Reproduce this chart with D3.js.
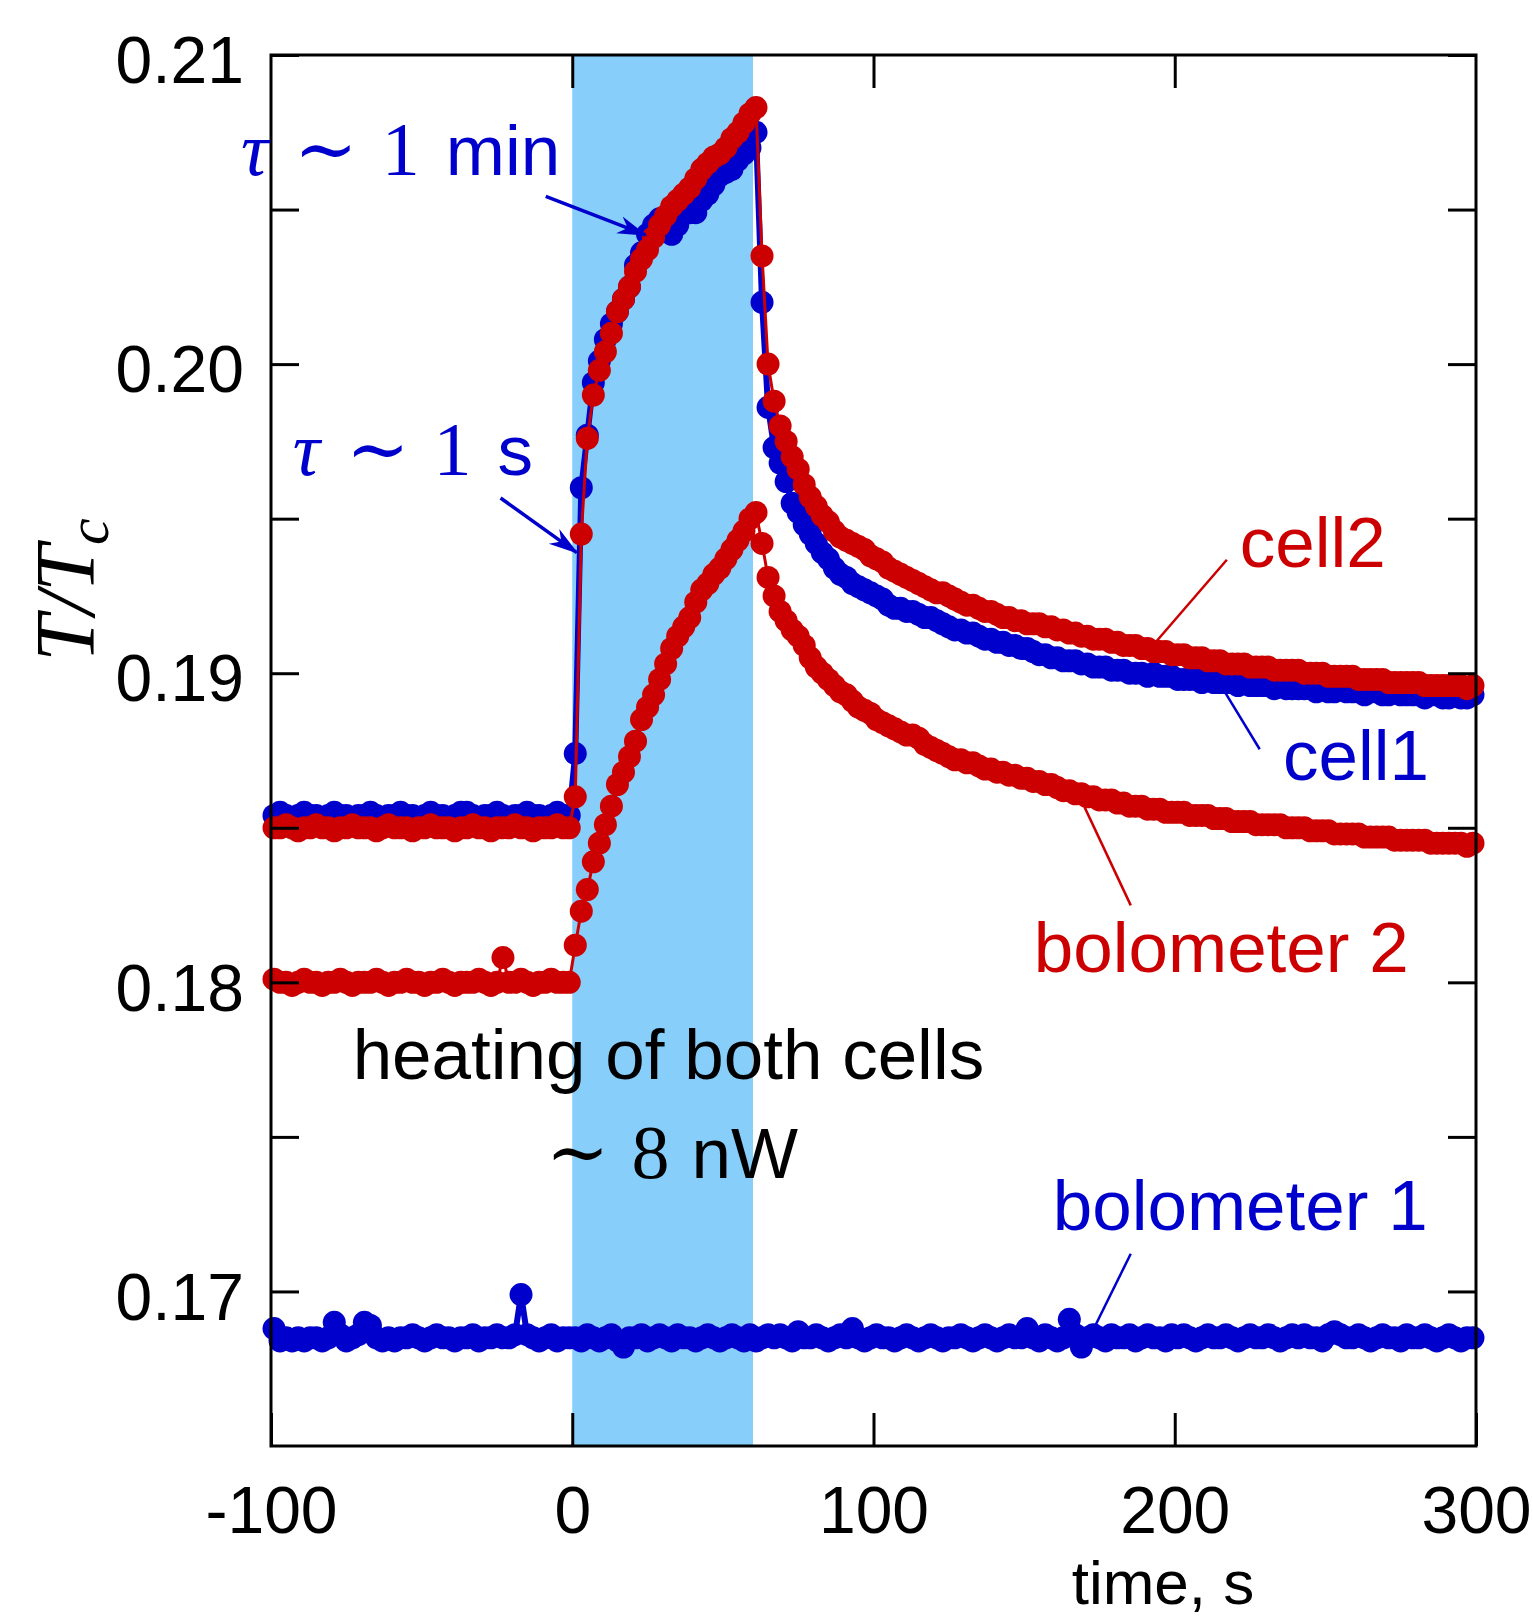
<!DOCTYPE html>
<html>
<head>
<meta charset="utf-8">
<script src="https://cdn.jsdelivr.net/npm/d3@7"></script>
<style>
  body { margin: 0; background: #fff; }
  svg { display: block; }
</style>
</head>
<body>
<svg class="chart" width="1533" height="1618"></svg>
<script>
// sampling grid of the recordings, one point every 2 s
const time = d3.range(-99, 300, 2)

// cell1 (blue) T/Tc
const cell1 = [
  0.1854,0.1855,0.1854,0.1853,0.1854,0.1855,0.1854,0.1854,0.1853,0.1854,
  0.1855,0.1854,0.1854,0.1853,0.1854,0.1854,0.1855,0.1854,0.1853,0.1854,
  0.1854,0.1855,0.1854,0.1854,0.1853,0.1854,0.1855,0.1854,0.1854,0.1853,
  0.1854,0.1855,0.1855,0.1854,0.1853,0.1854,0.1854,0.1855,0.1854,0.1853,
  0.1854,0.1854,0.1855,0.1854,0.1854,0.1853,0.1854,0.1855,0.1854,0.1854,
  // heating
  0.1874,0.1960,0.1977,0.1994,0.2001,0.2008,0.2013,0.2017,0.2021,0.2025,
  0.2032,0.2036,0.2042,0.2045,0.2047,0.2046,0.2042,0.2045,0.2050,0.2049,
  0.2049,0.2053,0.2055,0.2058,0.2061,0.2062,0.2063,0.2066,0.2068,0.2070,
  0.2075,
  // relaxation
  0.2020,0.1986,0.1973,0.1968,0.1962,0.1955,0.1952,0.1948,0.1945,0.1942,
  0.1939,0.1937,0.1934,0.1932,0.1931,0.1929,0.1928,0.1927,0.1926,0.1925,
  0.1924,0.1922,0.1921,0.1921,0.1920,0.1920,0.1919,0.1918,0.1918,0.1917,
  0.1916,0.1915,0.1914,0.1914,0.1913,0.1913,0.1912,0.1911,0.1911,0.1910,
  0.1910,0.1909,0.1909,0.1908,0.1908,0.1907,0.1906,0.1906,0.1905,0.1905,
  0.1904,0.1904,0.1904,0.1903,0.1903,0.1902,0.1902,0.1902,0.1901,0.1901,
  0.1901,0.1900,0.1900,0.1900,0.1899,0.1900,0.1899,0.1899,0.1899,0.1898,
  0.1898,0.1898,0.1898,0.1897,0.1898,0.1897,0.1897,0.1897,0.1897,0.1896,
  0.1897,0.1896,0.1896,0.1896,0.1896,0.1895,0.1896,0.1895,0.1895,0.1895,
  0.1895,0.1895,0.1894,0.1895,0.1894,0.1894,0.1895,0.1894,0.1894,0.1894,
  0.1893,0.1894,0.1894,0.1893,0.1893,0.1894,0.1893,0.1893,0.1893,0.1893,
  0.1892,0.1893,0.1893,0.1892,0.1892,0.1893,0.1892,0.1892,0.1893
]

// cell2 (red) T/Tc
const cell2 = [
  0.1850,0.1850,0.1851,0.1850,0.1849,0.1850,0.1850,0.1851,0.1850,0.1850,
  0.1849,0.1850,0.1850,0.1851,0.1850,0.1850,0.1850,0.1849,0.1850,0.1851,
  0.1850,0.1850,0.1850,0.1849,0.1850,0.1850,0.1851,0.1850,0.1850,0.1850,
  0.1849,0.1850,0.1850,0.1851,0.1850,0.1850,0.1849,0.1850,0.1850,0.1850,
  0.1851,0.1850,0.1850,0.1849,0.1850,0.1850,0.1850,0.1851,0.1850,0.1850,
  // heating
  0.1860,0.1945,0.1976,0.1990,0.1998,0.2004,0.2010,0.2017,0.2021,0.2025,
  0.2030,0.2034,0.2037,0.2041,0.2045,0.2048,0.2051,0.2053,0.2055,0.2057,
  0.2060,0.2063,0.2065,0.2067,0.2068,0.2070,0.2073,0.2075,0.2078,0.2081,
  0.2083,
  // relaxation
  0.2035,0.2000,0.1988,0.1980,0.1975,0.1970,0.1966,0.1961,0.1957,0.1954,
  0.1951,0.1949,0.1946,0.1944,0.1943,0.1942,0.1941,0.1940,0.1938,0.1937,
  0.1936,0.1934,0.1933,0.1932,0.1931,0.1930,0.1929,0.1928,0.1927,0.1926,
  0.1926,0.1925,0.1924,0.1923,0.1922,0.1922,0.1921,0.1920,0.1920,0.1919,
  0.1918,0.1918,0.1917,0.1917,0.1916,0.1916,0.1916,0.1915,0.1915,0.1914,
  0.1914,0.1913,0.1913,0.1912,0.1912,0.1911,0.1911,0.1911,0.1910,0.1910,
  0.1909,0.1909,0.1909,0.1908,0.1908,0.1907,0.1907,0.1907,0.1906,0.1906,
  0.1906,0.1905,0.1905,0.1905,0.1904,0.1904,0.1904,0.1903,0.1903,0.1903,
  0.1903,0.1902,0.1902,0.1902,0.1902,0.1901,0.1901,0.1901,0.1901,0.1901,
  0.1900,0.1900,0.1900,0.1900,0.1899,0.1899,0.1899,0.1899,0.1899,0.1898,
  0.1898,0.1898,0.1898,0.1898,0.1897,0.1897,0.1897,0.1897,0.1897,0.1897,
  0.1896,0.1896,0.1896,0.1896,0.1896,0.1896,0.1896,0.1895,0.1896
]

// bolometer 2 (red) T/Tc
const bolometer2 = [
  0.1801,0.1800,0.1800,0.1799,0.1800,0.1801,0.1800,0.1800,0.1799,0.1800,
  0.1800,0.1801,0.1800,0.1799,0.1800,0.1800,0.1800,0.1801,0.1800,0.1799,
  0.1800,0.1800,0.1801,0.1800,0.1800,0.1799,0.1800,0.1800,0.1801,0.1800,
  0.1799,0.1800,0.1800,0.1800,0.1801,0.1800,0.1799,0.1800,0.1808,0.1800,
  0.1800,0.1801,0.1800,0.1799,0.1800,0.1800,0.1801,0.1800,0.1800,0.1800,
  // heating
  0.1812,0.1823,0.1830,0.1839,0.1845,0.1851,0.1857,0.1864,0.1868,0.1873,
  0.1878,0.1885,0.1889,0.1893,0.1898,0.1903,0.1908,0.1912,0.1915,0.1918,
  0.1923,0.1927,0.1929,0.1932,0.1934,0.1937,0.1940,0.1943,0.1946,0.1950,
  0.1952,
  // relaxation
  0.1942,0.1931,0.1925,0.1920,0.1917,0.1914,0.1912,0.1909,0.1905,0.1902,
  0.1900,0.1898,0.1896,0.1894,0.1893,0.1891,0.1889,0.1888,0.1887,0.1885,
  0.1884,0.1883,0.1882,0.1881,0.1880,0.1880,0.1879,0.1877,0.1876,0.1875,
  0.1874,0.1873,0.1872,0.1872,0.1871,0.1871,0.1870,0.1869,0.1869,0.1868,
  0.1868,0.1867,0.1867,0.1866,0.1866,0.1865,0.1865,0.1864,0.1864,0.1863,
  0.1862,0.1862,0.1861,0.1861,0.1860,0.1860,0.1859,0.1859,0.1859,0.1858,
  0.1858,0.1857,0.1857,0.1857,0.1856,0.1856,0.1856,0.1855,0.1855,0.1855,
  0.1855,0.1854,0.1854,0.1854,0.1854,0.1853,0.1853,0.1853,0.1852,0.1852,
  0.1852,0.1852,0.1851,0.1851,0.1851,0.1851,0.1851,0.1850,0.1850,0.1850,
  0.1850,0.1849,0.1849,0.1849,0.1849,0.1848,0.1848,0.1848,0.1848,0.1848,
  0.1847,0.1847,0.1847,0.1847,0.1847,0.1846,0.1846,0.1846,0.1846,0.1846,
  0.1846,0.1845,0.1845,0.1845,0.1845,0.1845,0.1845,0.1844,0.1845
]

// bolometer 1 (blue) T/Tc
const bolometer1 = [
  0.1688,0.1684,0.1685,0.1684,0.1685,0.1684,0.1685,0.1685,0.1684,0.1685,
  0.1690,0.1686,0.1684,0.1685,0.1686,0.1690,0.1689,0.1685,0.1684,0.1685,
  0.1684,0.1685,0.1685,0.1686,0.1685,0.1684,0.1685,0.1686,0.1685,0.1685,
  0.1684,0.1685,0.1685,0.1686,0.1684,0.1685,0.1685,0.1686,0.1685,0.1685,
  0.1686,0.1699,0.1686,0.1685,0.1684,0.1685,0.1686,0.1684,0.1685,0.1685,
  0.1685,0.1684,0.1686,0.1685,0.1684,0.1685,0.1686,0.1684,0.1682,0.1685,
  0.1685,0.1686,0.1684,0.1685,0.1686,0.1685,0.1684,0.1686,0.1685,0.1685,
  0.1684,0.1685,0.1686,0.1685,0.1684,0.1685,0.1686,0.1685,0.1684,0.1686,
  0.1684,0.1685,0.1686,0.1685,0.1686,0.1685,0.1684,0.1687,0.1685,0.1685,
  0.1686,0.1685,0.1684,0.1685,0.1686,0.1685,0.1688,0.1685,0.1684,0.1685,
  0.1686,0.1685,0.1685,0.1684,0.1685,0.1686,0.1685,0.1684,0.1685,0.1686,
  0.1685,0.1684,0.1685,0.1685,0.1686,0.1685,0.1684,0.1685,0.1686,0.1685,
  0.1684,0.1685,0.1686,0.1685,0.1685,0.1688,0.1685,0.1684,0.1686,0.1685,
  0.1684,0.1685,0.1691,0.1686,0.1682,0.1685,0.1686,0.1685,0.1684,0.1686,
  0.1685,0.1685,0.1686,0.1684,0.1685,0.1686,0.1685,0.1685,0.1684,0.1686,
  0.1685,0.1686,0.1685,0.1684,0.1685,0.1686,0.1685,0.1685,0.1686,0.1685,
  0.1684,0.1685,0.1686,0.1685,0.1685,0.1686,0.1685,0.1684,0.1685,0.1686,
  0.1685,0.1686,0.1685,0.1685,0.1684,0.1686,0.1687,0.1686,0.1685,0.1685,
  0.1686,0.1685,0.1684,0.1685,0.1686,0.1685,0.1685,0.1684,0.1686,0.1685,
  0.1685,0.1686,0.1685,0.1684,0.1685,0.1686,0.1685,0.1684,0.1685,0.1685
]

const xTicks = [-100, 0, 100, 200, 300]
const xInnerTicks = [0, 100, 200]
const yTicks = [0.17, 0.175, 0.18, 0.185, 0.19, 0.195, 0.20, 0.205, 0.21]
const heating = [0, 60] // heater on, s

const blue = "#0000cc"
const red = "#cc0000"
const sans = "'Liberation Sans', Arial, sans-serif"
const serif = "'Liberation Serif', 'DejaVu Serif', serif"

var chart = d3.select(".chart")

var x = d3.scaleLinear().domain([-100, 300]).range([271, 1476])
var y = d3.scaleLinear().domain([0.165, 0.21]).range([1446, 55])

// heating window
chart.append("rect")
    .attr("x", x(heating[0]))
    .attr("y", y(0.21))
    .attr("width", x(heating[1]) - x(heating[0]))
    .attr("height", y(0.165) - y(0.21))
    .attr("fill", "#87cefa")

var series = [
    { values: cell1, color: blue, lw: 6 },
    { values: cell2, color: red, lw: 3 },
    { values: bolometer2, color: red, lw: 3 },
    { values: bolometer1, color: blue, lw: 6 }
]

series.forEach(s => {
    var line = d3.line()
        .x((d, i) => x(time[i]))
        .y(d => y(d))
    chart.append("path")
        .datum(s.values)
        .attr("d", line)
        .attr("fill", "none")
        .attr("stroke", s.color)
        .attr("stroke-width", s.lw)
    chart.append("g")
        .selectAll("circle")
        .data(s.values)
        .enter().append("circle")
        .attr("cx", (d, i) => x(time[i]))
        .attr("cy", d => y(d))
        .attr("r", 11.5)
        .attr("fill", s.color)
})

// axes, ticks point inwards
var yFormat = d => Math.round(d * 1000) % 10 === 0 ? d3.format(".2f")(d) : ""

var axes = chart.append("g").attr("class", "axes")
axes.append("g")
    .attr("transform", `translate(${x(-100)},0)`)
    .call(d3.axisLeft(y).tickValues(yTicks).tickSize(-28).tickPadding(27).tickFormat(yFormat))
axes.append("g")
    .attr("transform", `translate(${x(300)},0)`)
    .call(d3.axisRight(y).tickValues(yTicks).tickSize(-28).tickFormat(""))
axes.append("g")
    .attr("transform", `translate(0,${y(0.165)})`)
    .call(d3.axisBottom(x).tickValues(xTicks).tickSize(-33).tickPadding(40).tickFormat(d => String(d)))
axes.append("g")
    .attr("transform", `translate(0,${y(0.21)})`)
    .call(d3.axisTop(x).tickValues(xInnerTicks).tickSize(-33).tickFormat(""))

axes.selectAll(".domain").remove()
axes.selectAll(".tick line").attr("stroke", "#000").attr("stroke-width", 3)
axes.selectAll(".tick text")
    .attr("fill", "#000")
    .style("font-family", sans)
    .style("font-size", "66px")
axes.selectAll(".tick text").filter(function () { return this.getAttribute("dy") === "0.32em" })
    .attr("dy", "0.42em")

axes.append("rect")
    .attr("x", x(-100))
    .attr("y", y(0.21))
    .attr("width", x(300) - x(-100))
    .attr("height", y(0.165) - y(0.21))
    .attr("fill", "none")
    .attr("stroke", "#000")
    .attr("stroke-width", 3)

// axis titles
var ylab = chart.append("text")
    .attr("transform", "translate(94,590) rotate(-90)")
    .attr("text-anchor", "middle")
    .style("font-family", serif)
    .style("font-style", "italic")
    .style("font-size", "84px")
ylab.append("tspan").text("T/T")
ylab.append("tspan").attr("dy", 14).style("font-size", "60px").text("c")

chart.append("text")
    .attr("x", x(165.8))
    .attr("y", 1604)
    .style("font-family", sans)
    .style("font-size", "62px")
    .text("time, s")

// annotation pointers (data units)
var pointers = [
    { t1: -8.8, v1: 0.20543, t2: 24.3, v2: 0.20418, color: blue, arrow: true },
    { t1: -23.8, v1: 0.19567, t2: 1.5, v2: 0.19390, color: blue, arrow: true },
    { t1: 217.3, v1: 0.19367, t2: 193.0, v2: 0.19093, color: red, arrow: false },
    { t1: 228.2, v1: 0.18754, t2: 215.9, v2: 0.18951, color: blue, arrow: false },
    { t1: 185.4, v1: 0.18249, t2: 170.1, v2: 0.18566, color: red, arrow: false },
    { t1: 185.4, v1: 0.17122, t2: 173.8, v2: 0.16893, color: blue, arrow: false }
]

chart.append("defs").append("marker")
    .attr("id", "head")
    .attr("viewBox", "0 0 30 20")
    .attr("refX", 28)
    .attr("refY", 10)
    .attr("markerWidth", 30)
    .attr("markerHeight", 20)
    .attr("markerUnits", "userSpaceOnUse")
    .attr("orient", "auto")
    .append("path")
    .attr("d", "M0,1 L30,10 L0,19 L9,10 Z")
    .attr("fill", blue)

chart.append("g")
    .selectAll("line")
    .data(pointers)
    .enter().append("line")
    .attr("x1", d => x(d.t1))
    .attr("y1", d => y(d.v1))
    .attr("x2", d => x(d.t2))
    .attr("y2", d => y(d.v2))
    .attr("stroke", d => d.color)
    .attr("stroke-width", d => d.arrow ? 3.5 : 2.5)
    .attr("marker-end", d => d.arrow ? "url(#head)" : null)

// text annotations: m = math italic, r = roman, s = sans
var notes = [
    { t: -110, v: 0.20611, color: blue, parts: [["τ", "m"], ["∼", "r", 26], ["1", "r", 24], ["min", "s", 26]] },
    { t: -92.8, v: 0.19642, color: blue, parts: [["τ", "m"], ["∼", "r", 26], ["1", "r", 24], ["s", "s", 26]] },
    { t: 221.6, v: 0.19345, color: red, parts: [["cell2", "s"]] },
    { t: 235.9, v: 0.18654, color: blue, parts: [["cell1", "s"]] },
    { t: 153.2, v: 0.18033, color: red, parts: [["bolometer 2", "s"]] },
    { t: -72.9, v: 0.17687, color: "#000", parts: [["heating of both cells", "s"]] },
    { t: -8.8, v: 0.17367, color: "#000", parts: [["∼", "r"], ["8", "r", 22], ["nW", "s", 22]] },
    { t: 159.5, v: 0.17199, color: blue, parts: [["bolometer 1", "s"]] }
]

notes.forEach(n => {
    var txt = chart.append("text")
        .attr("x", x(n.t))
        .attr("y", y(n.v))
        .attr("fill", n.color)
    n.parts.forEach(p => {
        txt.append("tspan")
            .attr("dx", p[2] || 0)
            .style("font-family", p[1] === "s" ? sans : serif)
            .style("font-style", p[1] === "m" ? "italic" : "normal")
            .style("font-size", p[1] === "s" ? "71px" : "76px")
            .text(p[0])
    })
})
</script>
</body>
</html>
